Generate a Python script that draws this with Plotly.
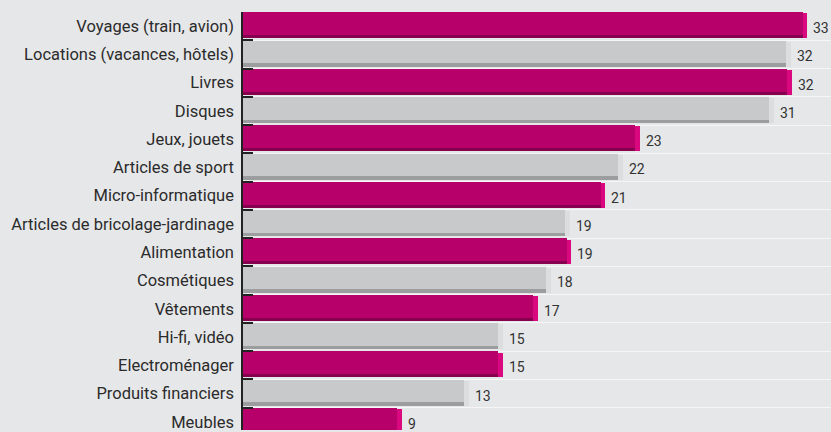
import plotly.graph_objects as go

categories = [
    "Voyages (train, avion)",
    "Locations (vacances, hôtels)",
    "Livres",
    "Disques",
    "Jeux, jouets",
    "Articles de sport",
    "Micro-informatique",
    "Articles de bricolage-jardinage",
    "Alimentation",
    "Cosmétiques",
    "Vêtements",
    "Hi-fi, vidéo",
    "Electroménager",
    "Produits financiers",
    "Meubles",
]
values = [33.0, 32.05, 32.1, 31.05, 23.2, 22.2, 21.2, 19.1, 19.2, 18.0, 17.25, 15.2, 15.2, 13.2, 9.3]
labels = ["33", "32", "32", "31", "23", "22", "21", "19", "19", "18", "17", "15", "15", "13", "9"]

MAG = dict(face="#b8006b", shadow="#870050", edge="#d9087f")
GRY = dict(face="#c8c9ca", shadow="#9c9d9e", edge="#dcdddd")
styles = [MAG if i % 2 == 0 else GRY for i in range(len(categories))]

EDGE = 0.27  # depth of the bevel, in value units

fig = go.Figure()
xs = [v - EDGE for v in values]
fig.add_trace(go.Bar(
    y=categories, x=xs, orientation="h", offset=-0.43, width=0.92,
    marker=dict(color=[s["shadow"] for s in styles], line=dict(width=0)),
    hoverinfo="skip", showlegend=False))
fig.add_trace(go.Bar(
    y=categories, x=xs, orientation="h", offset=-0.315, width=0.805,
    marker=dict(color=[s["face"] for s in styles], line=dict(width=0)),
    hoverinfo="skip", showlegend=False))
fig.add_trace(go.Bar(
    y=categories, x=[EDGE] * len(values), base=xs, orientation="h",
    offset=-0.43, width=0.88,
    marker=dict(color=[s["edge"] for s in styles], line=dict(width=0)),
    hoverinfo="skip", showlegend=False))

for c, v, t in zip(categories, values, labels):
    fig.add_annotation(x=v, y=c, text=t, showarrow=False, xanchor="left",
                       xshift=4, yshift=-2,
                       font=dict(family="Roboto, sans-serif", size=14, color="#333333"))

BG = "#e6e7e8"
fig.update_layout(
    width=831, height=432,
    margin=dict(l=243, r=0, t=12, b=0),
    paper_bgcolor=BG, plot_bgcolor=BG,
    barmode="overlay", bargap=0,
    showlegend=False,
    xaxis=dict(range=[0, 34.39], visible=False, fixedrange=True),
    yaxis=dict(
        categoryorder="array", categoryarray=categories[::-1],
        range=[-0.29, 14.5],
        showline=True, linecolor="#222222", linewidth=1.5,
        ticks="inside", ticklen=10, tickwidth=1.5, tickcolor="#222222",
        tickson="boundaries",
        showgrid=True, gridcolor="#f6f6f6", gridwidth=1,
        ticklabelstandoff=4,
        tickfont=dict(family="Roboto, sans-serif", size=16.5, color="#2b2b2b"),
        fixedrange=True,
    ),
)
fig.write_html("out.html")
